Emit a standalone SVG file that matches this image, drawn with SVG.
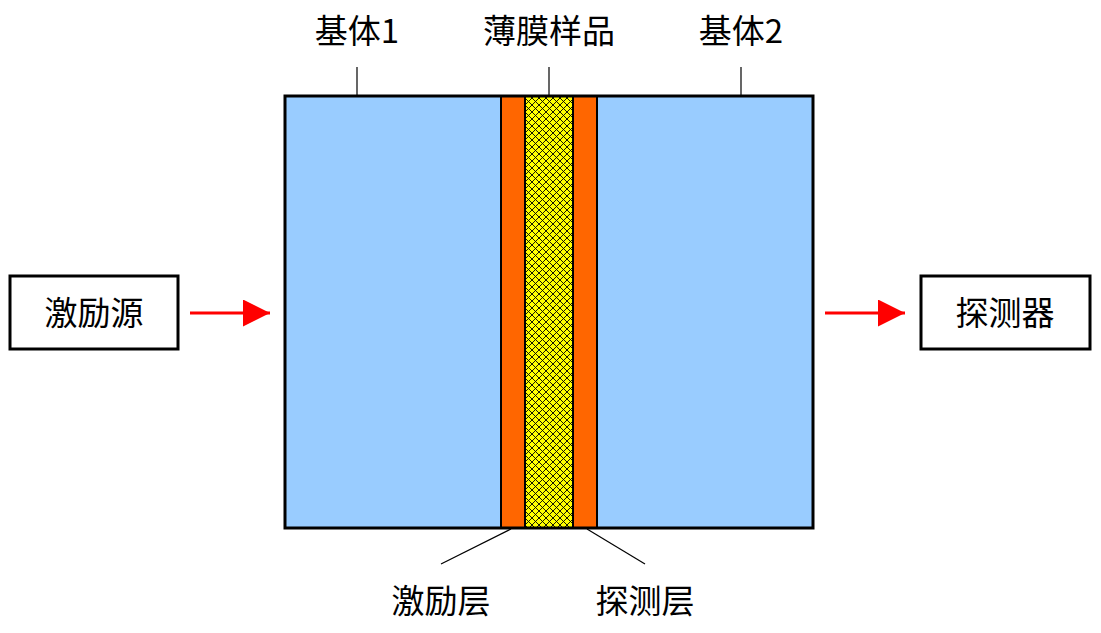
<svg xmlns="http://www.w3.org/2000/svg" width="1101" height="633" viewBox="0 0 1101 633">
<style>
.t{font-family:"Noto Sans CJK SC","Noto Sans",sans-serif;font-size:33px;fill:#000;text-anchor:middle}
.ln{stroke:#000;stroke-width:1.2;fill:none}
.box{fill:#fff;stroke:#000;stroke-width:3}
.arr{stroke:#f00;stroke-width:3;fill:none}
</style>
<defs>
<pattern id="hatch" width="7" height="7" patternUnits="userSpaceOnUse">
<rect width="7" height="7" fill="#ffff00"/>
<path d="M0,0L7,7M7,0L0,7" stroke="#000" stroke-width="0.9"/>
</pattern>
<marker id="ah" viewBox="0 0 10 10" refX="10" refY="5" markerWidth="9" markerHeight="9" markerUnits="strokeWidth" orient="auto">
<path d="M0,0L10,5L0,10Z" fill="#f00"/>
</marker>
</defs>
<g id="sample">
<rect x="285" y="96" width="528" height="432" fill="#99ccff"/>
<rect x="501" y="96" width="24" height="432" fill="#ff6600" stroke="#000" stroke-width="2"/>
<rect x="525" y="96" width="48" height="432" fill="url(#hatch)" stroke="#000" stroke-width="2"/>
<rect x="573" y="96" width="24" height="432" fill="#ff6600" stroke="#000" stroke-width="2"/>
<rect x="285" y="96" width="528" height="432" fill="none" stroke="#000" stroke-width="3"/>
</g>
<g id="source">
<rect class="box" x="10" y="276" width="168" height="73"/>
<text class="t" x="94" y="325">激励源</text>
</g>
<g id="detector">
<rect class="box" x="921" y="276" width="169" height="73"/>
<text class="t" x="1005" y="325">探测器</text>
</g>
<g id="labels">
<text class="t" x="357" y="43">基体1</text>
<text class="t" x="549" y="43">薄膜样品</text>
<text class="t" x="741" y="43">基体2</text>
<text class="t" x="441" y="613">激励层</text>
<text class="t" x="645" y="613">探测层</text>
</g>
<g id="connectors">
<line class="ln" x1="357" y1="67" x2="357" y2="96"/>
<line class="ln" x1="549" y1="67" x2="549" y2="96"/>
<line class="ln" x1="741" y1="67" x2="741" y2="96"/>
<line class="ln" x1="511" y1="529" x2="441" y2="564"/>
<line class="ln" x1="587" y1="529" x2="645" y2="564"/>
<line class="arr" x1="190" y1="313" x2="270" y2="313" marker-end="url(#ah)"/>
<line class="arr" x1="825" y1="313" x2="905" y2="313" marker-end="url(#ah)"/>
</g>
</svg>
